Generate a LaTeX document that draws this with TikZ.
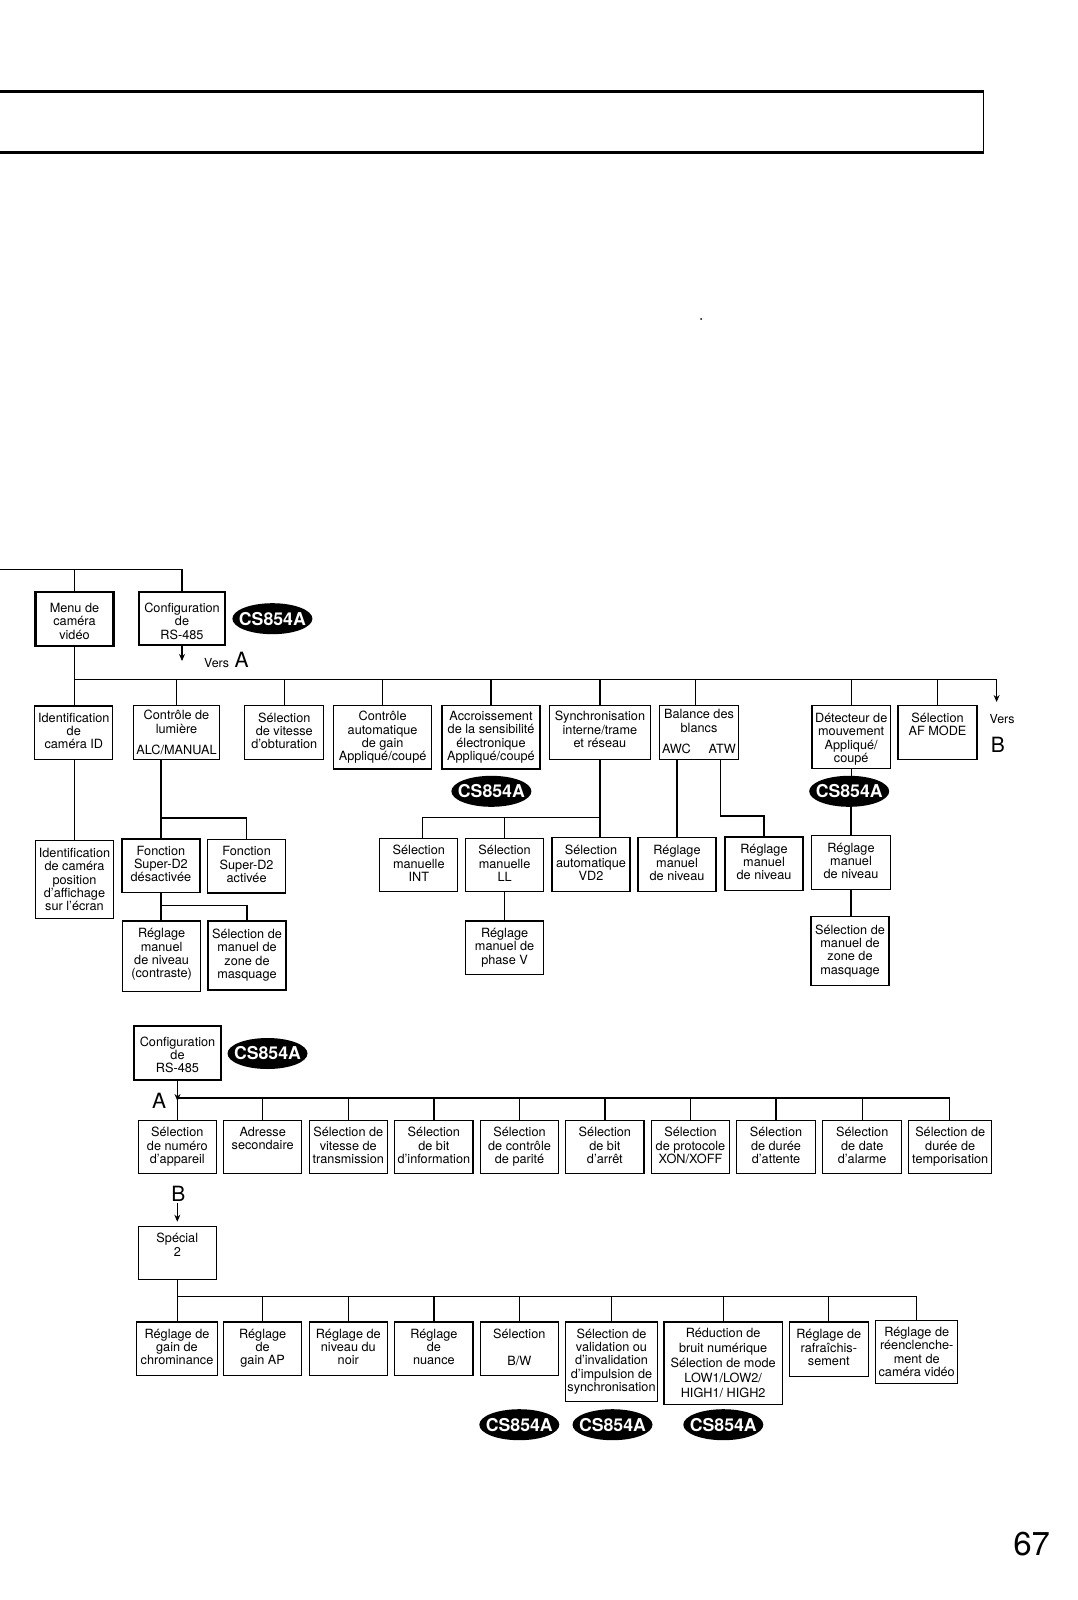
\documentclass[tikz,border=0pt]{standalone}
\usepackage{fontspec}
\setmainfont{TeX Gyre Heros}
\usetikzlibrary{arrows.meta,shapes.geometric}
\tikzset{
bx/.style={draw,line width=1.3pt,inner sep=0pt,outer sep=0pt,anchor=north west,align=center,text depth=3.5pt,
  minimum width=78pt,minimum height=53.5pt,font=\fontsize{12.7}{13.3}\selectfont},
bxthick/.style={bx,line width=2.2pt},
cs/.style={ellipse,fill=black,text=white,inner xsep=-5.6pt,inner ysep=-3pt,outer sep=0pt,minimum width=80pt,minimum height=31pt,
  font=\fontsize{17.7}{18}\selectfont\bfseries},
lab/.style={inner sep=0pt,anchor=base west,font=\fontsize{12.4}{13}\selectfont},
biglab/.style={lab,font=\fontsize{21}{22}\selectfont}
}
\begin{document}
\begin{tikzpicture}[x=1pt,y=-1pt,line width=1.3pt,>={Stealth[width=6pt,length=7pt]}]
\useasboundingbox(0,0)rectangle(1078,1600);
% cadre du haut
\draw[line width=2.2pt](0,91.5)--(983,91.5)(0,152.5)--(983,152.5);
\draw[line width=1pt](983,90.4)--(983,153.6);
\fill(701,319)circle(1);
% menu camera
\node[bxthick,minimum width=78pt,minimum height=54pt,text depth=0pt,text height=41pt](menu)at(35.5,591.7){Menu de\\caméra\\vidéo};
\node[bxthick,minimum width=86pt,minimum height=53.6pt,text depth=0pt,text height=41pt](cfg)at(139,591.7){Configuration\\de\\RS-485};
\node[cs](cscfg)at(272.4,618.7){CS854A};
\node[lab](versa)at(203.5,667.3){Vers};
\node[biglab](a)at(234,667.3){A};
\node[bx](ident)at(34.8,706){Identification\\de\\caméra ID};
\node[bx,minimum width=85.8pt,text depth=0pt](ctrl)at(133.6,705.7){Contrôle de\\lumière\\[8.3pt]ALC/MANUAL};
\node[bx,minimum width=79pt](obt)at(244.8,705.7){Sélection\\de vitesse\\d'obturation};
\node[bx,minimum width=97.8pt,minimum height=63.3pt,text depth=2.7pt](gain)at(333.7,705.7){Contrôle\\automatique\\de gain\\Appliqué/coupé};
\node[bx,minimum width=98pt,minimum height=63.3pt,text depth=2.7pt](accr)at(442,705.7){Accroissement\\de la sensibilité\\électronique\\Appliqué/coupé};
\node[cs](csaccr)at(491.4,791.3){CS854A};
\node[bx,minimum width=101.4pt,text depth=6pt](synchro)at(549.2,705.7){Synchronisation\\interne/trame\\et réseau};
\node[bx,minimum width=78.6pt,text depth=2pt](balance)at(659.7,705.7){Balance des\\blancs\\[8pt]AWC\hspace{18pt}ATW};
\node[bx,minimum width=78.4pt,minimum height=62.6pt,text depth=0pt,text height=51pt](detect)at(812,705.7){Détecteur de\\mouvement\\Appliqué/\\coupé};
\node[bx,minimum width=79pt](afmode)at(898,705.7){Sélection\\AF MODE\\ };
\node[lab](versb)at(989,723.5){Vers};
\node[biglab](b)at(990.3,752){B};
\node[cs](csdet)at(849.2,791.3){CS854A};
% 2e niveau
\node[bx,minimum height=77.6pt,text depth=0pt](ident2)at(35.5,840.7){Identification\\de caméra\\position\\d'affichage\\sur l'écran};
\node[bx](fon1)at(121.9,839){Fonction\\Super-D2\\désactivée};
\node[bx](fon2)at(207.6,839.4){Fonction\\Super-D2\\activée};
\node[bx,minimum height=70.7pt,text depth=6.5pt](regl)at(122.6,921){Réglage\\manuel\\de niveau\\(contraste)};
\node[bx,minimum height=69pt](masq)at(208,921){Sélection de\\manuel de\\zone de\\masquage};
\node[bx](int)at(379.8,838.3){Sélection\\manuelle\\INT};
\node[bx](ll)at(465.6,838.3){Sélection\\manuelle\\LL};
\node[bx,text depth=3pt](phase)at(465.6,921){Réglage\\manuel de\\phase V};
\node[bx](vd2)at(552,837.7){Sélection\\automatique\\VD2};
\node[bx](awc)at(638,837.7){Réglage\\manuel\\de niveau};
\node[bx](atw)at(725,837){Réglage\\manuel\\de niveau};
\node[bx,minimum width=78.6pt](rn)at(811.7,835.7){Réglage\\manuel\\de niveau};
\node[bx,minimum height=69pt](rm)at(811,916.7){Sélection de\\manuel de\\zone de\\masquage};
% liaisons du haut
\coordinate(topl)at(0,569.5);
\coordinate(bus)at(74.4,679.3);
\coordinate(busend)at(996.6,679.3);
\coordinate(versbend)at(996.6,702);
\coordinate(versaend)at(182.3,661);
\draw(topl)-|(cfg.north)(menu.north|-topl)--(menu.north);
\draw(menu.south)--(menu.south|-ident.north);
\draw(bus|-ident.south)--(bus|-ident2.north);
\draw[->](cfg.south)--(cfg.south|-versaend);
\draw[->](bus)--(busend)--(versbend);
\draw(ctrl.north|-bus)--(ctrl.north)(obt.north|-bus)--(obt.north)(gain.north|-bus)--(gain.north)
(accr.north|-bus)--(accr.north)(synchro.north|-bus)--(synchro.north)(detect.north|-bus)--(detect.north)
(afmode.north|-bus)--(afmode.north)([xshift=-3.7pt]balance.north|-bus)--([xshift=-3.7pt]balance.north);
\coordinate(fonj)at(fon1.north|-0,818);
\coordinate(regj)at(fon1.south|-0,905.7);
\draw(fon1.north|-ctrl.south)--(fon1.north)(fonj)-|(fon2.north);
\draw(fon1.south)--(fon1.south|-regl.north)(regj)-|(masq.north);
\coordinate(synj)at(synchro.south|-0,817.5);
\coordinate(intj)at(422.5,817.5);
\draw(synchro.south)--(synchro.south|-vd2.north)(synj)--(intj)--(intj|-int.north);
\draw(ll.north|-synj)--(ll.north)(ll.south)--(phase.north);
\coordinate(atws)at(720.8,758.7);
\coordinate(atwj)at(720.8,816);
\draw(awc.north|-balance.south)--(awc.north)(atws)--(atwj)-|(atw.north);
\draw(detect.south)--(detect.south|-csdet.north)(rn.north|-csdet.south)--(rn.north)(rn.south)--(rn.south|-rm.north);
% RS-485
\node[bxthick,minimum width=86.4pt,minimum height=54.3pt,text depth=0pt,text height=40pt](cfgb)at(134.3,1025.7){Configuration\\de\\RS-485};
\node[cs](cscfgb)at(267.5,1053.5){CS854A};
\node[biglab](ab)at(151.5,1108){A};
\node[bx](num)at(138.3,1120.3){Sélection\\de numéro\\d'appareil};
\node[bx](adr)at(223.7,1120.3){Adresse\\secondaire\\ };
\node[bx](vit)at(309.3,1120.3){Sélection de\\vitesse de\\transmission};
\node[bx,minimum width=78.3pt](inf)at(394.7,1120.3){Sélection\\de bit\\d'information};
\node[bx,minimum width=78.4pt](par)at(480.3,1120.3){Sélection\\de contrôle\\de parité};
\node[bx,minimum width=78.3pt](arr)at(565.7,1120.3){Sélection\\de bit\\d'arrêt};
\node[bx,minimum width=78.4pt](pro)at(651.3,1120.3){Sélection\\de protocole\\XON/XOFF};
\node[bx,minimum width=78.6pt](att)at(736.7,1120.3){Sélection\\de durée\\d'attente};
\node[bx,minimum width=79pt](ala)at(822.7,1120.3){Sélection\\de date\\d'alarme};
\node[bx,minimum width=83pt](tem)at(908.7,1120.3){Sélection de\\durée de\\temporisation};
\coordinate(busb)at(177.5,1098);
\coordinate(buschk)at(177.5,1101);
\draw[->](cfgb.south)--(buschk);
\draw(busb)--(949.3,1098)coordinate(busbend)--(busbend|-tem.north);
\draw(busb)--(busb|-num.north)(adr.north|-busb)--(adr.north)(vit.north|-busb)--(vit.north)(inf.north|-busb)--(inf.north)
(par.north|-busb)--(par.north)(arr.north|-busb)--(arr.north)(pro.north|-busb)--(pro.north)(att.north|-busb)--(att.north)(ala.north|-busb)--(ala.north);
% special
\node[biglab](bb)at(170.7,1201){B};
\coordinate(specin)at(177.3,1203.3);
\node[bx](spec)at(138.3,1226.3){Spécial\\2\\ };
\draw[->,shorten >=4.6pt](specin)--(specin|-spec.north);
\node[bx,minimum width=80.6pt](chr)at(136.7,1322){Réglage de\\gain de\\chrominance};
\node[bx](gap)at(223.7,1322){Réglage\\de\\gain AP};
\node[bx](noir)at(309.3,1322){Réglage de\\niveau du\\noir};
\node[bx,minimum width=78.3pt](nua)at(394.7,1322){Réglage\\de\\nuance};
\node[bx](bw)at(480.3,1322){Sélection\\[13.3pt]B/W};
\node[bx,minimum width=91.6pt,minimum height=79.7pt](val)at(565.7,1322){Sélection de\\validation ou\\d'invalidation\\d'impulsion de\\synchronisation};
\node[bx,minimum width=118.3pt,minimum height=82.3pt,text depth=0pt](red)at(664,1322){Réduction de\\[1.7pt]bruit numérique\\[1.7pt]Sélection de mode\\[1.7pt]LOW1/LOW2/\\[1.7pt]HIGH1/ HIGH2};
\node[bx,minimum width=79pt,minimum height=54.3pt](raf)at(789.3,1322){Réglage de\\rafraîchis-\\sement};
\node[bx,minimum width=82pt,minimum height=62.6pt,text depth=0pt](ree)at(875.7,1320.7){Réglage de\\réenclenche-\\ment de\\caméra vidéo};
\node[cs](csbw)at(519.3,1424.7){CS854A};
\node[cs](csval)at(612.5,1424.7){CS854A};
\node[cs](csred)at(723.3,1424.7){CS854A};
\coordinate(busc)at(177.3,1296.2);
\draw(spec.south)--(spec.south|-chr.north)(busc)-|(ree.north);
\draw(gap.north|-busc)--(gap.north)(noir.north|-busc)--(noir.north)(nua.north|-busc)--(nua.north)(bw.north|-busc)--(bw.north)
(val.north|-busc)--(val.north)(red.north|-busc)--(red.north)(raf.north|-busc)--(raf.north);
\node[lab,font=\fontsize{33}{34}\selectfont](page)at(1012.7,1555){67};
\end{tikzpicture}
\end{document}
